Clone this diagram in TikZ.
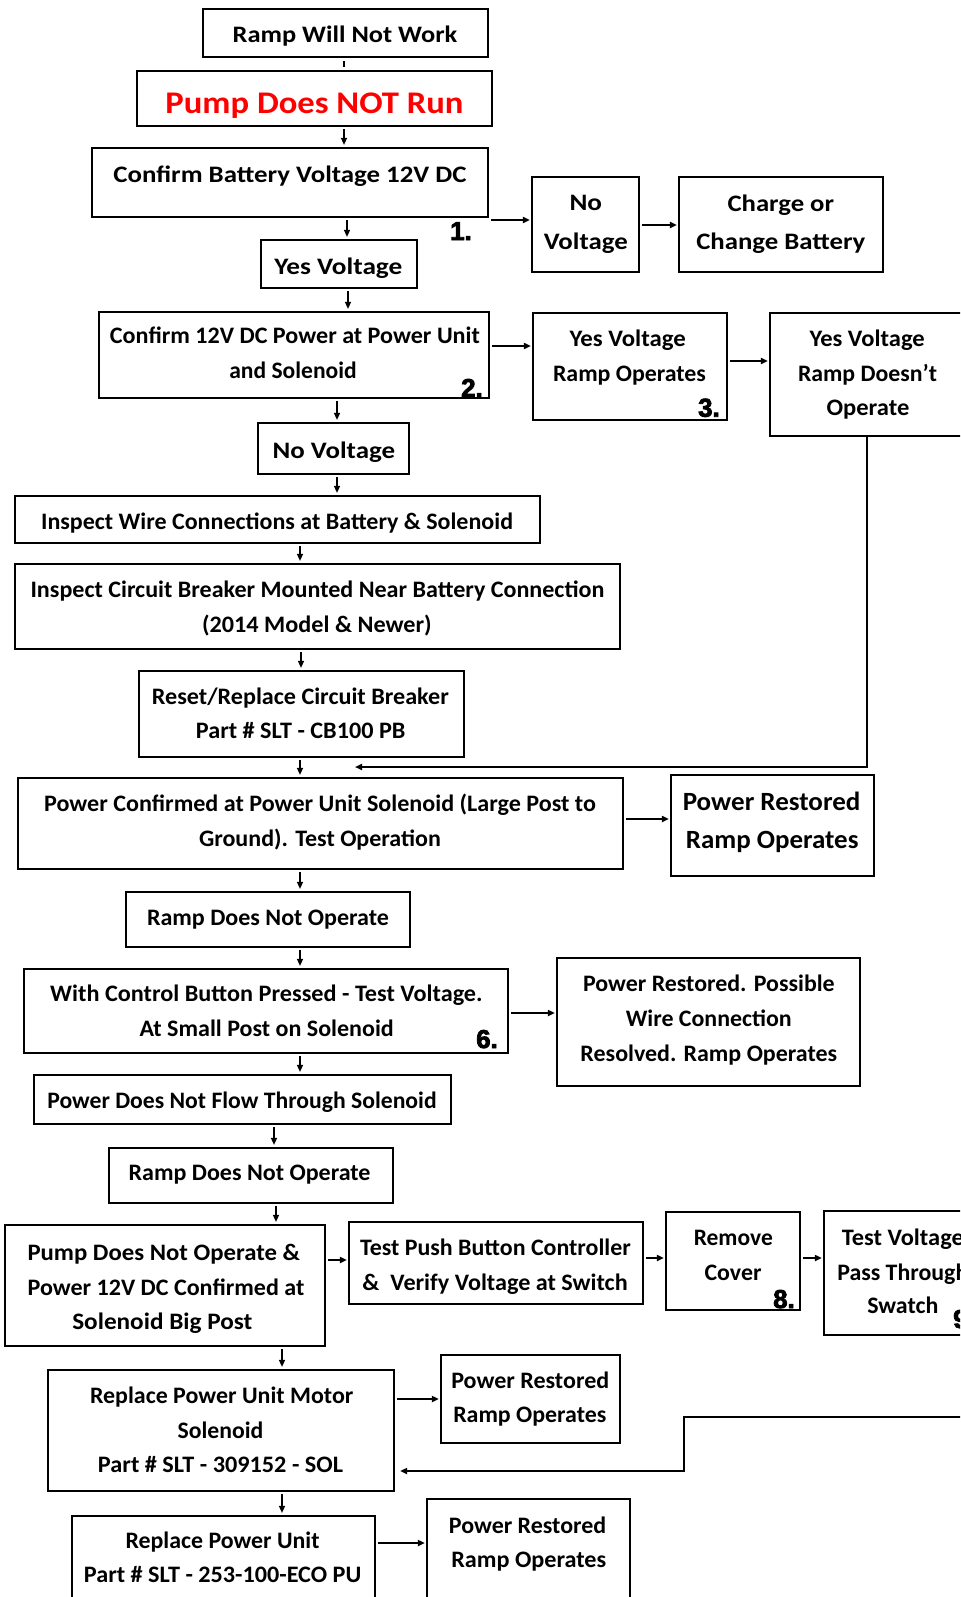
\documentclass[tikz,border=0pt]{standalone}
\usepackage{fontspec}
\usetikzlibrary{arrows.meta,fit}
\setmainfont{Carlito}
\newfontfamily\bodyf{Carlito}
\newfontfamily\numf{Liberation Sans Bold}[FakeBold=3]
\newcommand\bodyfont{\bodyf\bfseries\fontsize{23.7}{35}\selectfont}
\newcommand\bigfont{\bodyf\bfseries\fontsize{26.4}{38}\selectfont}
\newcommand\redfont{\bodyf\bfseries\fontsize{31.6}{38}\selectfont}
\newcommand\numfont{\numf\fontsize{26}{30}\selectfont}
\newcommand\fw[2]{\resizebox{#1bp}{\height}{#2}}
\definecolor{pumpred}{RGB}{255,0,0}
\tikzset{
  box/.style={draw, line width=2.2bp, inner sep=0pt},
  txt/.style={anchor=base, inner sep=0pt, font=\bodyfont},
  bigtxt/.style={anchor=base, inner sep=0pt, font=\bigfont},
  redtxt/.style={anchor=base, inner sep=0pt, font=\redfont, text=pumpred},
  num/.style={anchor=base west, inner sep=0pt, font=\numfont},
  connv/.style={line width=1.4bp, -{Triangle[length=7bp,width=6bp]}, shorten <=2bp, shorten >=2bp},
  connh/.style={line width=2bp, -{Triangle[length=7bp,width=6bp]}, shorten <=2bp, shorten >=1bp},
  plainc/.style={line width=1.4bp, shorten <=3bp, shorten >=3bp},
}
\begin{document}
\begin{tikzpicture}[x=1bp,y=-1bp]
\useasboundingbox (0,0) rectangle (960,1597);
\clip (0,0) rectangle (960,1597);
\fill[white] (0,0) rectangle (960,1597);
% boxes
\node[box, fit={(203,9) (488,57)}] (A) {};
\node[box, fit={(137,71) (492,126)}] (B) {};
\node[box, fit={(92,148) (488,217)}] (C) {};
\node[box, fit={(532,177) (639,272)}] (NV) {};
\node[box, fit={(679,177) (883,272)}] (CH) {};
\node[box, fit={(261,240) (417,288)}] (YV) {};
\node[box, fit={(99,312) (489,398)}] (C2) {};
\node[box, fit={(533,313) (727,420)}] (YVRO) {};
\node[box, fit={(770,313) (963,436)}] (YVRD) {};
\node[box, fit={(258,423) (409,474)}] (NV2) {};
\node[box, fit={(15,496) (540,543)}] (WIRE) {};
\node[box, fit={(15,564) (620,649)}] (CB) {};
\node[box, fit={(139,671) (464,757)}] (RST) {};
\node[box, fit={(18,778) (623,869)}] (PC) {};
\node[box, fit={(671,775) (874,876)}] (PR1) {};
\node[box, fit={(126,892) (410,947)}] (RD1) {};
\node[box, fit={(24,969) (508,1053)}] (WC) {};
\node[box, fit={(557,958) (860,1086)}] (PRP) {};
\node[box, fit={(34,1075) (451,1124)}] (PDNF) {};
\node[box, fit={(109,1148) (393,1203)}] (RD2) {};
\node[box, fit={(5,1225) (325,1346)}] (PDNO) {};
\node[box, fit={(349,1222) (643,1304)}] (TPB) {};
\node[box, fit={(666,1212) (800,1310)}] (RC) {};
\node[box, fit={(824,1211) (981,1335)}] (TV) {};
\node[box, fit={(48,1370) (394,1491)}] (RPUM) {};
\node[box, fit={(441,1355) (620,1443)}] (PR2) {};
\node[box, fit={(72,1516) (375,1625)}] (RPU) {};
\node[box, fit={(427,1499) (630,1625)}] (PR3) {};
% texts
\node[txt] (tA) at (345,42.5) {\fw{224.6}{Ramp Will Not Work}};
\node[redtxt] (tB) at (314.5,113.5) {\fw{298}{Pump Does NOT Run}};
\node[txt] (tC) at (290,182.5) {\fw{353.3}{Confirm Battery Voltage 12V DC}};
\node[txt] (tNVa) at (585.8,210.7) {\fw{32.5}{No}};
\node[txt] (tNVb) at (585.8,249.3) {\fw{83.9}{Voltage}};
\node[txt] (tCHa) at (780.8,211.5) {\fw{106.5}{Charge or}};
\node[txt] (tCHb) at (780.8,249.5) {\fw{169}{Change Battery}};
\node[txt] (tYV) at (338.3,274) {\fw{128}{Yes Voltage}};
\node[txt] (tC2a) at (295,343.3) {\fw{370}{Confirm 12V DC Power at Power Unit}};
\node[txt] (tC2b) at (293,378.3) {\fw{127.3}{and Solenoid}};
\node[txt] (tYVROa) at (627.7,346) {\fw{116.3}{Yes Voltage}};
\node[txt] (tYVROb) at (629.5,381) {\fw{153}{Ramp Operates}};
\node[txt] (tYVRDa) at (867.1,346) {\fw{115.2}{Yes Voltage}};
\node[txt] (tYVRDb) at (867.5,381) {\fw{139}{Ramp Doesn’t}};
\node[txt] (tYVRDc) at (868,415.5) {\fw{82.7}{Operate}};
\node[txt] (tNV2) at (333.8,458) {\fw{122.5}{No Voltage}};
\node[txt] (tWIRE) at (277.1,529.5) {\fw{472}{Inspect Wire Connections at Battery \& Solenoid}};
\node[txt] (tCBa) at (317.5,597.5) {\fw{573.8}{Inspect Circuit Breaker Mounted Near Battery Connection}};
\node[txt] (tCBb) at (316.9,632) {\fw{229.6}{(2014 Model \& Newer)}};
\node[txt] (tRSTa) at (300.4,704) {\fw{297}{Reset/Replace Circuit Breaker}};
\node[txt] (tRSTb) at (300.7,738) {\fw{209.4}{Part \# SLT - CB100 PB}};
\node[txt] (tPCa) at (320,811) {\fw{551.8}{Power Confirmed at Power Unit Solenoid (Large Post to}};
\node[txt] (tPCb) at (320,846) {\fw{241.9}{Ground). Test Operation}};
\node[bigtxt] (tPR1a) at (771.6,810) {\fw{177.6}{Power Restored}};
\node[bigtxt] (tPR1b) at (772.2,848.3) {\fw{172.7}{Ramp Operates}};
\node[txt] (tRD1) at (268,925) {\fw{241.9}{Ramp Does Not Operate}};
\node[txt] (tWCa) at (266.4,1001.7) {\fw{432.3}{With Control Button Pressed - Test Voltage.}};
\node[txt] (tWCb) at (266.7,1036.7) {\fw{254.1}{At Small Post on Solenoid}};
\node[txt] (tPRPa) at (708.9,991.7) {\fw{251.7}{Power Restored. Possible}};
\node[txt] (tPRPb) at (708.8,1026.7) {\fw{166}{Wire Connection}};
\node[txt] (tPRPc) at (708.8,1061) {\fw{256.6}{Resolved. Ramp Operates}};
\node[txt] (tPDNF) at (242,1108) {\fw{389.3}{Power Does Not Flow Through Solenoid}};
\node[txt] (tRD2) at (249.6,1180.7) {\fw{241.9}{Ramp Does Not Operate}};
\node[txt] (tPDNOa) at (163.8,1260) {\fw{272.5}{Pump Does Not Operate \&}};
\node[txt] (tPDNOb) at (166,1295) {\fw{276.8}{Power 12V DC Confirmed at}};
\node[txt] (tPDNOc) at (162.3,1329.3) {\fw{180}{Solenoid Big Post}};
\node[txt] (tTPBa) at (495.4,1255) {\fw{270.7}{Test Push Button Controller}};
\node[txt] (tTPBb) at (495.1,1290) {\fw{265.2}{\&\ \ Verify Voltage at Switch}};
\node[txt] (tRCa) at (733.3,1245) {\fw{79}{Remove}};
\node[txt] (tRCb) at (733,1280) {\fw{57}{Cover}};
\node[txt] (tTVa) at (902.8,1245) {\fw{122}{Test Voltage}};
\node[txt] (tTVb) at (902.8,1280) {\fw{131}{Pass Through}};
\node[txt] (tTVc) at (902.8,1313.3) {\fw{71}{Swatch}};
\node[txt] (tRPUMa) at (221.7,1403.3) {\fw{263.3}{Replace Power Unit Motor}};
\node[txt] (tRPUMb) at (220.5,1438.3) {\fw{85.7}{Solenoid}};
\node[txt] (tRPUMc) at (220.5,1472.7) {\fw{245}{Part \# SLT - 309152 - SOL}};
\node[txt] (tPR2a) at (530.3,1388.3) {\fw{158}{Power Restored}};
\node[txt] (tPR2b) at (529.8,1422) {\fw{153.1}{Ramp Operates}};
\node[txt] (tRPUa) at (222.6,1548.3) {\fw{194.1}{Replace Power Unit}};
\node[txt] (tRPUb) at (222.6,1582.7) {\fw{277.4}{Part \# SLT - 253-100-ECO PU}};
\node[txt] (tPR3a) at (527.6,1533.3) {\fw{157.4}{Power Restored}};
\node[txt] (tPR3b) at (528.8,1567.3) {\fw{155}{Ramp Operates}};
% step numbers
\node[num] (n1) at (450,240) {1.};
\node[num] (n2) at (461,397) {2.};
\node[num] (n3) at (698,416.7) {3.};
\node[num] (n6) at (476,1048) {6.};
\node[num] (n8) at (773,1308) {8.};
\node[num] (n9) at (953,1328) {9.};
% helper coordinates
\coordinate (v344) at (344,0);
\coordinate (v347) at (347,0);
\coordinate (v348) at (348,0);
\coordinate (v337) at (337,0);
\coordinate (v300) at (300,0);
\coordinate (v301) at (301,0);
\coordinate (v274) at (274,0);
\coordinate (v276) at (276,0);
\coordinate (v282) at (282,0);
\coordinate (h220) at (0,220);
\coordinate (h225) at (0,225);
\coordinate (h346) at (0,346);
\coordinate (h361) at (0,361);
\coordinate (h819) at (0,819);
\coordinate (h1013) at (0,1013);
\coordinate (h1260) at (0,1260);
\coordinate (h1258) at (0,1258);
\coordinate (h1399) at (0,1399);
\coordinate (h1471) at (0,1471);
\coordinate (h1543) at (0,1543);
\coordinate (j1) at (355,767);
\coordinate (j2) at (970,1417);
\coordinate (k1) at (684,1417);
% connectors
\draw[plainc] (v344 |- A.south) -- (v344 |- B.north);
\draw[connv] (v344 |- B.south) -- (v344 |- C.north);
\draw[connh] (C.east |- h220) -- (NV.west |- h220);
\draw[connh] (NV.east |- h225) -- (CH.west |- h225);
\draw[connv] (v347 |- C.south) -- (v347 |- YV.north);
\draw[connv] (v348 |- YV.south) -- (v348 |- C2.north);
\draw[connh] (C2.east |- h346) -- (YVRO.west |- h346);
\draw[connh] (YVRO.east |- h361) -- (YVRD.west |- h361);
\draw[connv] (v337 |- C2.south) -- (v337 |- NV2.north);
\draw[connv] (v337 |- NV2.south) -- (v337 |- WIRE.north);
\draw[connv] (v300 |- WIRE.south) -- (v300 |- CB.north);
\draw[connv] (v301 |- CB.south) -- (v301 |- RST.north);
\draw[connv] (v300 |- RST.south) -- (v300 |- PC.north);
\draw[line width=2bp, -{Triangle[length=7bp,width=6bp]}] (YVRD.south) |- (j1);
\draw[connh] (PC.east |- h819) -- (PR1.west |- h819);
\draw[connv] (v300 |- PC.south) -- (v300 |- RD1.north);
\draw[connv] (v300 |- RD1.south) -- (v300 |- WC.north);
\draw[connh] (WC.east |- h1013) -- (PRP.west |- h1013);
\draw[connv] (v300 |- WC.south) -- (v300 |- PDNF.north);
\draw[connv] (v274 |- PDNF.south) -- (v274 |- RD2.north);
\draw[connv] (v276 |- RD2.south) -- (v276 |- PDNO.north);
\draw[connh] (PDNO.east |- h1260) -- (TPB.west |- h1260);
\draw[connh] (TPB.east |- h1258) -- (RC.west |- h1258);
\draw[connh] (RC.east |- h1258) -- (TV.west |- h1258);
\draw[connv] (v282 |- PDNO.south) -- (v282 |- RPUM.north);
\draw[connh] (RPUM.east |- h1399) -- (PR2.west |- h1399);
\draw[line width=2bp, -{Triangle[length=7bp,width=6bp]}, shorten >=5bp] (j2) -- (k1) |- (RPUM.east |- h1471);
\draw[connv] (v282 |- RPUM.south) -- (v282 |- RPU.north);
\draw[connh] (RPU.east |- h1543) -- (PR3.west |- h1543);
\end{tikzpicture}
\end{document}
